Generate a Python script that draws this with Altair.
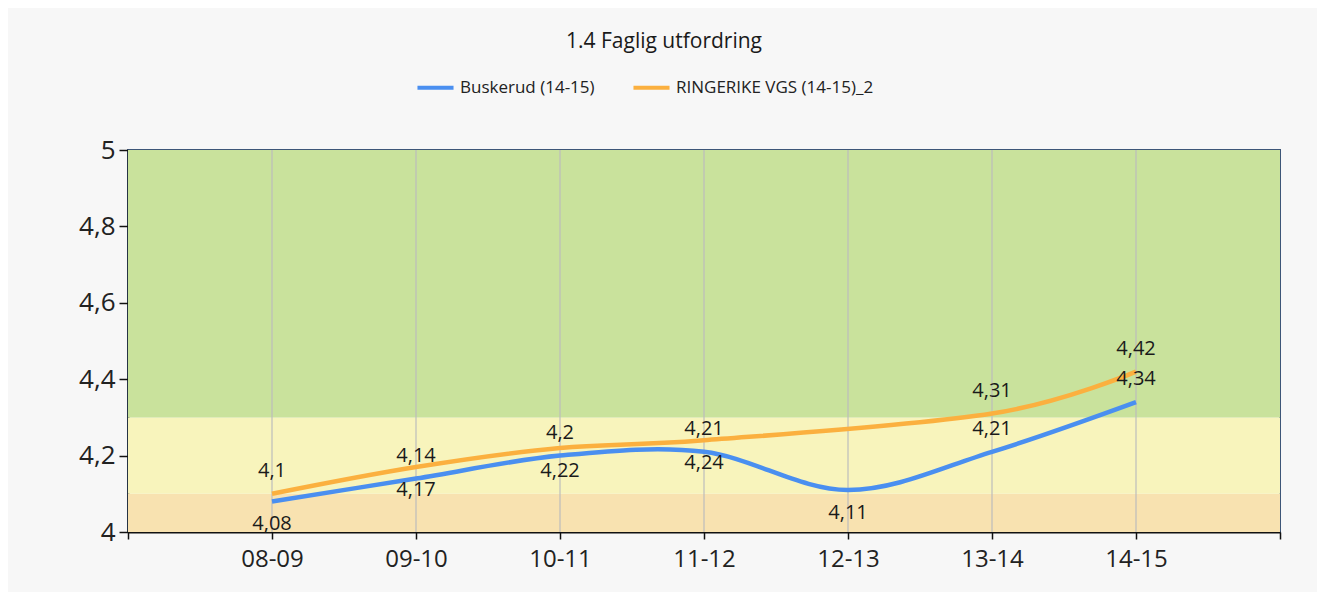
import altair as alt
import pandas as pd

# ---- data ----
periods = ["08-09", "09-10", "10-11", "11-12", "12-13", "13-14", "14-15"]
buskerud = [4.08, 4.14, 4.20, 4.21, 4.11, 4.21, 4.34]
ringerike = [4.10, 4.17, 4.22, 4.24, None, 4.31, 4.42]
series_names = ["Buskerud (14-15)", "RINGERIKE VGS (14-15)_2"]
band_low = [4.0, 4.1, 4.3]
band_high = [4.1, 4.3, 5.0]
band_names = ["low", "mid", "high"]

# ---- styles ----
series_colors = ["#4a8ff0", "#fbb03f"]
band_colors = ["#f8e2b0", "#f8f4bc", "#c9e29c"]
busk_label_side = ["below", "above", "above", "above", "below", "above", "above"]
ring_label_side = ["above", "below", "below", "below", None, "above", "above"]

FONT = "Segoe UI, Open Sans, sans-serif"

rows = []
for name, vals, sides in [(series_names[0], buskerud, busk_label_side),
                          (series_names[1], ringerike, ring_label_side)]:
    for i, (p, v, s) in enumerate(zip(periods, vals, sides)):
        if v is None:
            continue
        rows.append({"series": name, "idx": i + 1, "period": p, "value": v,
                     "label": str(v).rstrip("0").rstrip(".").replace(".", ","),
                     "side": s})
df = pd.DataFrame(rows)

bands = pd.DataFrame({"band": band_names, "lo": band_low, "hi": band_high})
grid = pd.DataFrame({"idx": list(range(1, len(periods) + 1))})

n = len(periods)
label_arr = "[" + ",".join("'" + p + "'" for p in periods) + "]"
x_label_expr = f"datum.value >= 1 && datum.value <= {n} ? {label_arr}[datum.value - 1] : ''"

xscale = alt.Scale(domain=[0, n + 1], nice=False, zero=False)
yscale = alt.Scale(domain=[4, 5], nice=False, zero=False)

band_layer = alt.Chart(bands).mark_rect().encode(
    y=alt.Y("lo:Q", scale=yscale, axis=alt.Axis(
        title=None, values=[4, 4.2, 4.4, 4.6, 4.8, 5],
        labelExpr="replace(format(datum.value, '.1~f'), '.', ',')",
        labelFontSize=26, labelFont=FONT, labelColor="#222222",
        tickSize=9, tickColor="#111111", tickWidth=1.5,
        domainColor="#111111", domainWidth=2, grid=False, labelPadding=4)),
    y2="hi:Q",
    fill=alt.Fill("band:N", scale=alt.Scale(domain=band_names, range=band_colors), legend=None),
)

grid_layer = alt.Chart(grid).mark_rule(color="#bdbdbd", strokeWidth=1.2).encode(
    x=alt.X("idx:Q", scale=xscale, axis=alt.Axis(
        title=None, values=list(range(0, n + 2)), labelExpr=x_label_expr,
        labelFontSize=24, labelFont=FONT, labelColor="#222222",
        tickSize=7, tickColor="#111111", tickWidth=1.5,
        domainColor="#111111", domainWidth=2, grid=False, labelPadding=8)),
)

line_layer = alt.Chart(df).mark_line(interpolate="cardinal", strokeWidth=4.5).encode(
    x=alt.X("idx:Q", scale=xscale),
    y=alt.Y("value:Q", scale=yscale),
    stroke=alt.Stroke("series:N", scale=alt.Scale(domain=series_names, range=series_colors),
                      legend=alt.Legend(title=None, orient="none", legendX=287, legendY=-83,
                                        direction="horizontal", symbolType="stroke",
                                        symbolStrokeWidth=4, symbolSize=1300,
                                        labelFontSize=17, labelFont=FONT, labelColor="#222222",
                                        columnPadding=30, labelLimit=400)),
    detail="series:N",
)

text_above = alt.Chart(df).transform_filter("datum.side == 'above'").mark_text(
    dy=-23, fontSize=20, font=FONT, color="#1a1a1a").encode(
    x=alt.X("idx:Q", scale=xscale), y=alt.Y("value:Q", scale=yscale), text="label:N")
text_below = alt.Chart(df).transform_filter("datum.side == 'below'").mark_text(
    dy=23, fontSize=20, font=FONT, color="#1a1a1a").encode(
    x=alt.X("idx:Q", scale=xscale), y=alt.Y("value:Q", scale=yscale), text="label:N")

chart = alt.layer(band_layer, grid_layer, line_layer, text_above, text_below).properties(
    width=1152, height=382,
    title=alt.TitleParams("1.4 Faglig utfordring", fontSize=21, font=FONT, fontWeight="normal",
                          color="#1a1a1a", anchor="middle", dx=-40, offset=15),
    autosize=alt.AutoSizeParams(type="none"),
    padding={"left": 120, "top": 142, "right": 37, "bottom": 60},
    background="#f7f7f7",
).configure_view(stroke="#3d5678", strokeWidth=2)

chart.save("out.html", embed_options={"renderer": "svg", "actions": False})
